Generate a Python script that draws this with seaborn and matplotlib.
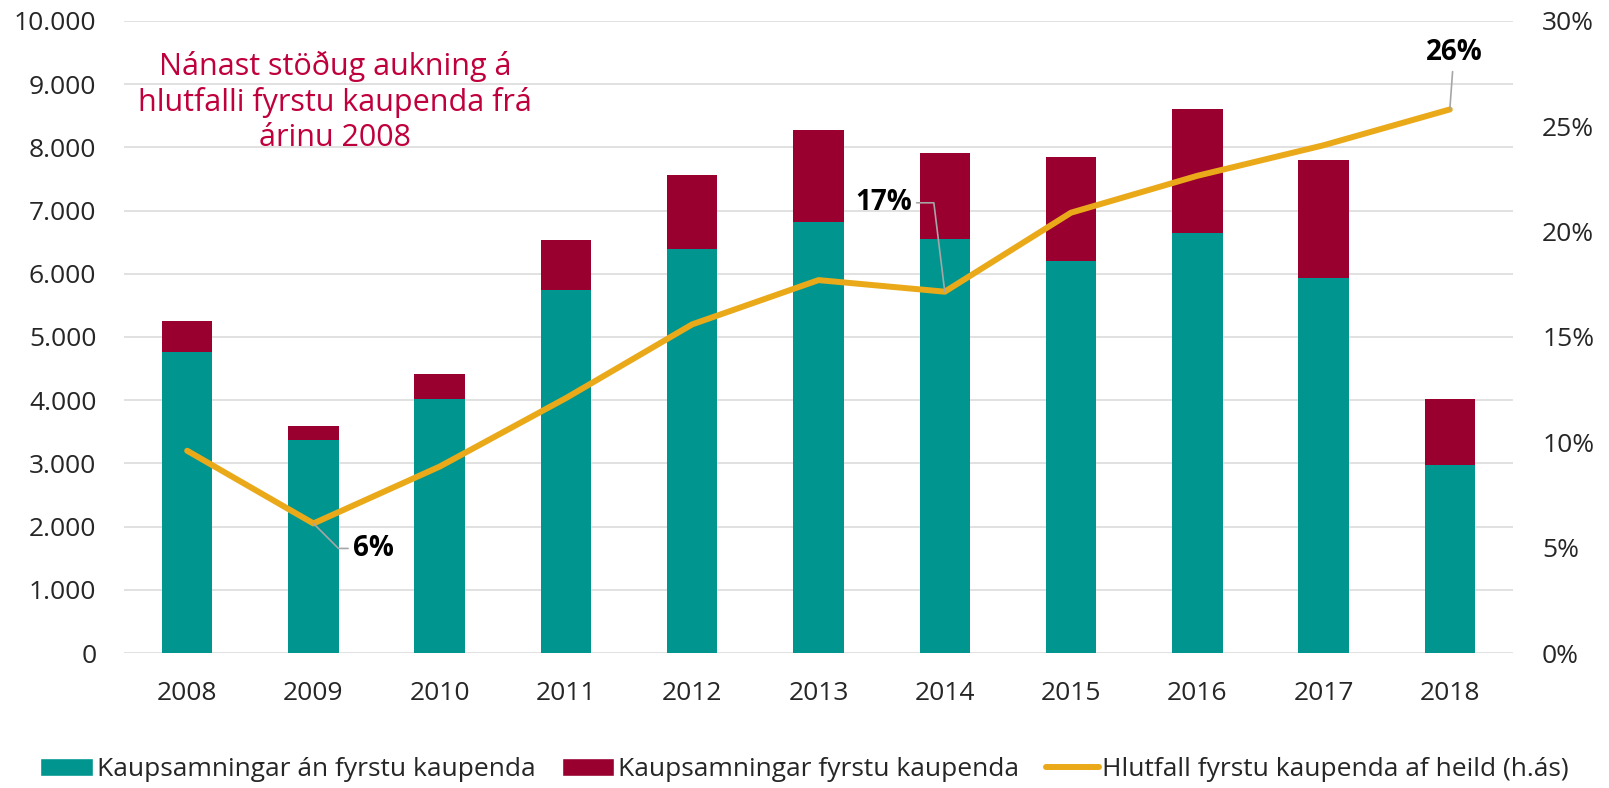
import numpy as np
import pandas as pd
import matplotlib
matplotlib.use("Agg")
import matplotlib.pyplot as plt
import seaborn as sns
from matplotlib.patches import Patch
from matplotlib.lines import Line2D
from matplotlib.ticker import FuncFormatter, MultipleLocator

# Data
years = ["2008", "2009", "2010", "2011", "2012", "2013", "2014", "2015", "2016", "2017", "2018"]
without_first = [4765, 3371, 4019, 5737, 6386, 6823, 6548, 6207, 6645, 5932, 2982]
first_buyers = [486, 227, 389, 794, 1183, 1459, 1361, 1637, 1961, 1864, 1037]
share_first = [9.6, 6.15, 8.85, 12.1, 15.6, 17.7, 17.15, 20.9, 22.65, 24.1, 25.8]
labelled = {"2009": "6%", "2014": "17%", "2018": "26%"}

teal = "#00968F"
crimson = "#990030"
gold = "#EAA919"
grid_c = "#D9D9D9"

df = pd.DataFrame({"year": years, "without": without_first, "first": first_buyers, "share": share_first})
df["total"] = df["without"] + df["first"]

sns.set_style("white")
plt.rcParams["font.family"] = ["Open Sans", "DejaVu Sans"]

fig = plt.figure(figsize=(16.09, 7.88), dpi=100)
ax = fig.add_axes([0.0771, 0.1713, 0.8632, 0.8021])

sns.barplot(data=df, x="year", y="total", color=crimson, width=0.4, saturation=1,
            linewidth=0, ax=ax)
sns.barplot(data=df, x="year", y="without", color=teal, width=0.4, saturation=1,
            linewidth=0, ax=ax)

ax.set_ylim(0, 10000)
ax.yaxis.set_major_locator(MultipleLocator(1000))
ax.yaxis.set_major_formatter(FuncFormatter(lambda v, p: f"{int(v):,}".replace(",", ".")))
ax.grid(axis="y", color=grid_c, linewidth=1.1)
ax.set_axisbelow(True)
ax.set_xlabel("")
ax.set_ylabel("")
ax.tick_params(axis="y", labelsize=19, length=0, pad=20)
ax.tick_params(axis="x", labelsize=19, length=0, pad=20)
for s in ax.spines.values():
    s.set_visible(False)

ax2 = ax.twinx()
pos = np.arange(len(years))
sns.lineplot(x=pos, y=df["share"], color=gold, linewidth=4.3, ax=ax2)
ax2.lines[0].set_solid_capstyle("round")
ax2.set_ylim(0, 30)
ax2.yaxis.set_major_locator(MultipleLocator(5))
ax2.yaxis.set_major_formatter(FuncFormatter(lambda v, p: f"{v:.0f}%"))
ax2.tick_params(axis="y", labelsize=19, length=0, pad=21)
ax2.set_ylabel("")
for s in ax2.spines.values():
    s.set_visible(False)
ax.set_xlim(-0.5, len(years) - 0.5)

# value labels with leader lines
offsets = {"2009": ((43, -18), "angle,angleA=0,angleB=-45", (0, 0.5)),
           "2014": ((-44, 64), "angle,angleA=0,angleB=-83", (1, 0.5)),
           "2018": ((3, 41), "arc3", (0.5, 0.5))}
for yr, txt in labelled.items():
    i = years.index(yr)
    off, conn, rp = offsets[yr]
    ax2.annotate(txt, xy=(i, share_first[i]), xytext=off, textcoords="offset points",
                 ha="center", va="center", fontsize=20, fontweight="bold", color="black",
                 arrowprops=dict(arrowstyle="-", color="#A6A6A6", lw=1.2,
                                 connectionstyle=conn, relpos=rp, shrinkA=1, shrinkB=0))

ax.text(0.152, 0.872, "Nánast stöðug aukning á\nhlutfalli fyrstu kaupenda frá\nárinu 2008",
        transform=ax.transAxes, ha="center", va="center", fontsize=22,
        color="#C0003C", linespacing=1.22, zorder=5)

handles = [Patch(facecolor=teal, label="Kaupsamningar án fyrstu kaupenda"),
           Patch(facecolor=crimson, label="Kaupsamningar fyrstu kaupenda"),
           Line2D([0], [0], color=gold, lw=4.3, solid_capstyle="round",
                  label="Hlutfall fyrstu kaupenda af heild (h.ás)")]
fig.legend(handles=handles, loc="center", bbox_to_anchor=(0.5, 0.023), ncol=3,
           frameon=False, fontsize=19, handlelength=2.0, handleheight=0.7,
           handletextpad=0.15, columnspacing=1.0)

fig.savefig("out.png", dpi=100)
